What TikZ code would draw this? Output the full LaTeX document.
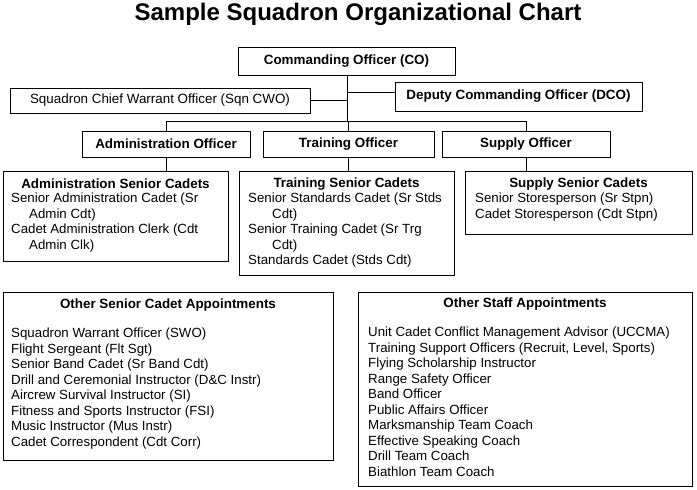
\documentclass[tikz,border=0pt]{standalone}
\usepackage{fontspec}
\setmainfont{Liberation Sans}
\begin{document}
\begin{tikzpicture}[x=1pt,y=-1pt,
  box/.style={draw,line width=0.8pt,inner sep=0pt},
  lbl/.style={font=\fontsize{13.4}{15}\selectfont\bfseries},
  lst/.style={anchor=north west,align=left,inner sep=0pt,font=\fontsize{13.3}{15.5}\selectfont},
  con/.style={line width=0.8pt}]
\useasboundingbox (0,0) rectangle (697,490);
\node[font=\fontsize{24}{28}\selectfont\bfseries] (title) at (358,14) {Sample Squadron Organizational Chart};
% boxes
\node[box,minimum width=217,minimum height=28] (co) at (346.5,61) {};
\node[lbl] at (co) {Commanding Officer (CO)};
\node[box,minimum width=300,minimum height=25] (cwo) at (160,100.5) {};
\node[font=\fontsize{13.4}{15}\selectfont] at (cwo) {Squadron Chief Warrant Officer (Sqn CWO)};
\node[box,minimum width=247,minimum height=29] (dco) at (518.5,96.5) {};
\node[lbl] at (dco) {Deputy Commanding Officer (DCO)};
\node[box,minimum width=168,minimum height=26] (ao) at (166,144) {};
\node[lbl] at (ao) {Administration Officer};
\node[box,minimum width=171,minimum height=26] (to) at (348.5,144) {};
\node[lbl] at (to) {Training Officer};
\node[box,minimum width=168,minimum height=26] (so) at (526,144) {};
\node[lbl] at (so) {Supply Officer};
\node[box,minimum width=225,minimum height=90] (as) at (115.5,216) {};
\node[box,minimum width=215,minimum height=104] (ts) at (346.5,223) {};
\node[box,minimum width=227,minimum height=63] (ss) at (578.5,202.5) {};
\node[box,minimum width=330,minimum height=168] (os) at (168,376) {};
\node[box,minimum width=334,minimum height=194] (st) at (525,389) {};
% list texts
\node[lbl] (ast) at (115.5,184) {Administration Senior Cadets};
\node[lst] (asl) at (11,193) {Senior Administration Cadet (Sr\\\hspace*{18pt}Admin Cdt)\\Cadet Administration Clerk (Cdt\\\hspace*{18pt}Admin Clk)};
\node[lbl] (tst) at (346.5,184) {Training Senior Cadets};
\node[lst] (tsl) at (248,193) {Senior Standards Cadet (Sr Stds\\\hspace*{24pt}Cdt)\\Senior Training Cadet (Sr Trg\\\hspace*{24pt}Cdt)\\Standards Cadet (Stds Cdt)};
\node[lbl] (sst) at (578.5,184) {Supply Senior Cadets};
\node[lst] (ssl) at (475,193) {Senior Storesperson (Sr Stpn)\\Cadet Storesperson (Cdt Stpn)};
\node[lbl] (ost) at (168,305) {Other Senior Cadet Appointments};
\node[lst] (osl) at (11,328) {Squadron Warrant Officer (SWO)\\Flight Sergeant (Flt Sgt)\\Senior Band Cadet (Sr Band Cdt)\\Drill and Ceremonial Instructor (D\&C Instr)\\Aircrew Survival Instructor (SI)\\Fitness and Sports Instructor (FSI)\\Music Instructor (Mus Instr)\\Cadet Correspondent (Cdt Corr)};
\node[lbl] (stt) at (525,304) {Other Staff Appointments};
\node[lst] (stl) at (368,327) {Unit Cadet Conflict Management Advisor (UCCMA)\\Training Support Officers (Recruit, Level, Sports)\\Flying Scholarship Instructor\\Range Safety Officer\\Band Officer\\Public Affairs Officer\\Marksmanship Team Coach\\Effective Speaking Coach\\Drill Team Coach\\Biathlon Team Coach};
% connectors
\coordinate (bus) at (347,121);
\draw[con] (co.south -| bus) -- (bus);
\draw[con] (cwo.east) -- (cwo.east -| bus);
\draw[con] (bus |- 92,92) -- (dco.west |- 92,92);
\draw[con] (ao.north) -- (ao.north |- bus) -- (so.north |- bus) -- (so.north);
\draw[con] (to.north) -- (to.north |- bus);
\draw[con] (ao.south) -- (ao.south |- as.north);
\draw[con] (to.south) -- (to.south |- ts.north);
\draw[con] (so.south) -- (so.south |- ss.north);
\end{tikzpicture}
\end{document}
